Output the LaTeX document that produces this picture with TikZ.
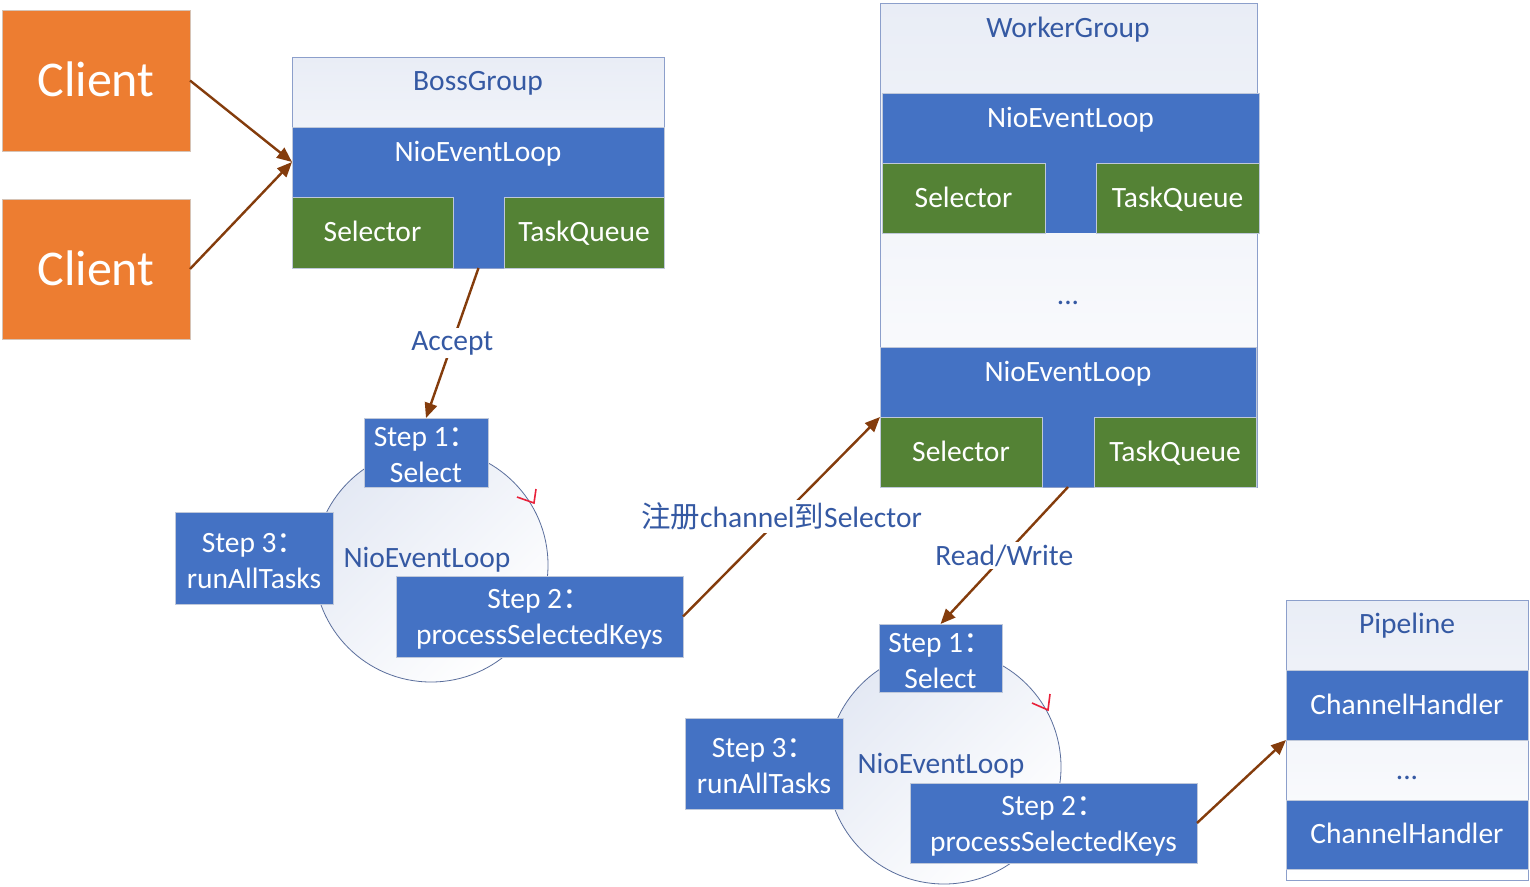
\documentclass[tikz,border=0pt]{standalone}
\usepackage{fontspec}
\setmainfont{Carlito}
\newfontfamily\cjk{Noto Sans CJK SC}
\usetikzlibrary{arrows.meta,calc}
\definecolor{blu}{HTML}{4472C4}
\definecolor{grn}{HTML}{548235}
\definecolor{org}{HTML}{ED7D31}
\definecolor{brn}{HTML}{843C0C}
\definecolor{lbl}{HTML}{3559A3}
\definecolor{bdr}{HTML}{BFC8DA}
\definecolor{clbd}{HTML}{D6C3B5}
\definecolor{gbdr}{HTML}{8C9FCB}
\definecolor{hdr}{HTML}{E9EDF6}
\definecolor{circ}{HTML}{5A6E9C}
\definecolor{circtop}{HTML}{E4E9F4}
\definecolor{chev}{HTML}{E8213A}
\newcommand\topstrut{\rule{0pt}{25pt}}
\begin{document}
\begin{tikzpicture}[x=1pt,y=-1pt,
  every node/.style={inner sep=0pt, outer sep=0pt},
  bigf/.style={font=\fontsize{29.5}{36}\selectfont},
  box/.style={bigf, draw=bdr, line width=1pt, text=white, anchor=north west, align=center},
  bluebox/.style={box, fill=blu},
  grnbox/.style={box, fill=grn},
  stepbox/.style={bluebox},
  stembox/.style={fill=blu, anchor=north west},
  hitext/.style={text height=20pt, text depth=21pt},
  ctext/.style={text height=20pt, text depth=1.4pt},
  grp/.style={draw=gbdr, line width=1pt, top color=hdr, bottom color=white, anchor=north west},
  ttl/.style={bigf, ctext, text=lbl},
  dots/.style={bigf, text=lbl},
  loopc/.style={circle, minimum size=234pt, draw=circ, line width=0.8pt, top color=circtop, bottom color=white, shading angle=45},
  chevl/.style={draw=chev, line width=1.6pt},
  arr/.style={draw=brn, line width=2.4pt, -{Triangle[length=15pt,width=12.5pt]}},
  lblnode/.style={bigf, text=lbl, fill=white, inner sep=3pt},
  clientbox/.style={box, fill=org, draw=clbd, font=\fontsize{50}{58}\selectfont, text height=32pt, text depth=0pt, minimum width=188pt}
]
\fill[white] (0,0) rectangle (1530,886);
\useasboundingbox (0,0) rectangle (1530,886);

% clients
\node[clientbox, minimum height=141pt] (c1) at (2,10) {Client};
\node[clientbox, minimum height=140pt] (c2) at (2,199) {Client};

% boss group
\node[grp, minimum width=372pt, minimum height=211pt] (boss) at (292,57) {};
\node[ttl] (bosst) at (478,81) {BossGroup};
\node[bluebox, hitext, minimum width=372pt, minimum height=70pt] (bnel) at (292,127) {NioEventLoop};
\node[stembox, minimum width=51pt, minimum height=72pt] (bstem) at (453,196) {};
\node[grnbox, ctext, minimum width=161pt, minimum height=71pt] (bsel) at (292,197) {Selector};
\node[grnbox, ctext, minimum width=160pt, minimum height=71pt] (btq) at (504,197) {TaskQueue};

% worker group
\node[grp, minimum width=377pt, minimum height=484pt] (work) at (880,3) {};
\node[ttl] (workt) at (1068,28) {WorkerGroup};
\node[bluebox, hitext, minimum width=377pt, minimum height=70pt] (wnel1) at (882,93) {NioEventLoop};
\node[stembox, minimum width=51pt, minimum height=71pt] (wstem1) at (1045,162) {};
\node[grnbox, ctext, minimum width=163pt, minimum height=70pt] (wsel1) at (882,163) {Selector};
\node[grnbox, ctext, minimum width=163pt, minimum height=70pt] (wtq1) at (1096,163) {TaskQueue};
\node[dots] (wdots) at (1068,303) {...};
\node[bluebox, hitext, minimum width=376pt, minimum height=70pt] (wnel2) at (880,347) {NioEventLoop};
\node[stembox, minimum width=52pt, minimum height=71pt] (wstem2) at (1042,416) {};
\node[grnbox, ctext, minimum width=162pt, minimum height=70pt] (wsel2) at (880,417) {Selector};
\node[grnbox, ctext, minimum width=162pt, minimum height=70pt] (wtq2) at (1094,417) {TaskQueue};

% pipeline
\node[grp, minimum width=242pt, minimum height=280pt] (pipe) at (1286,600) {};
\node[ttl] (pipet) at (1407,624) {Pipeline};
\node[bluebox, ctext, minimum width=242pt, minimum height=70pt] (ph1) at (1286,670) {ChannelHandler};
\node[dots] (pdots) at (1407,778) {...};
\node[bluebox, ctext, minimum width=242pt, minimum height=69pt] (ph2) at (1286,800) {ChannelHandler};

% boss event loop cycle
\node[loopc] (loop1) at (431,565) {};
\node[bigf, ctext, text=lbl] (loop1t) at (427,558) {NioEventLoop};
\draw[chevl] (517,497) -- (534,503) -- (536,489);
\node[stepbox, minimum width=124pt, minimum height=69pt] (b1) at (364,418) {\topstrut Step 1{\cjk ：}\\Select};
\node[stepbox, minimum width=158pt, minimum height=92pt] (b3) at (175,512) {\topstrut Step 3{\cjk ：}\\runAllTasks};
\node[stepbox, minimum width=287pt, minimum height=81pt] (b2) at (396,576) {\topstrut Step 2{\cjk ：}\\processSelectedKeys};

% worker event loop cycle
\node[loopc] (loop2) at (944,767) {};
\node[bigf, ctext, text=lbl] (loop2t) at (941,764) {NioEventLoop};
\draw[chevl] (1032,703) -- (1048,710) -- (1050,694);
\node[stepbox, minimum width=123pt, minimum height=68pt] (w1) at (879,624) {\topstrut Step 1{\cjk ：}\\Select};
\node[stepbox, minimum width=158pt, minimum height=91pt] (w3) at (685,718) {\topstrut Step 3{\cjk ：}\\runAllTasks};
\node[stepbox, minimum width=287pt, minimum height=80pt] (w2) at (910,783) {\topstrut Step 2{\cjk ：}\\processSelectedKeys};

% connectors
\draw[arr] (c1.east) -- (bnel.west);
\draw[arr] (c2.east) -- (bnel.west);
\draw[arr] (bstem.south) -- node[lblnode] {Accept} (b1.north);
\draw[arr] (b2.east) -- node[lblnode] {{\cjk 注册}channel{\cjk 到}Selector} (wnel2.south west);
\draw[arr] (wstem2.south) -- node[lblnode] {Read/Write} (w1.north);
\draw[arr] (w2.east) -- (ph1.south west);
\end{tikzpicture}
\end{document}
